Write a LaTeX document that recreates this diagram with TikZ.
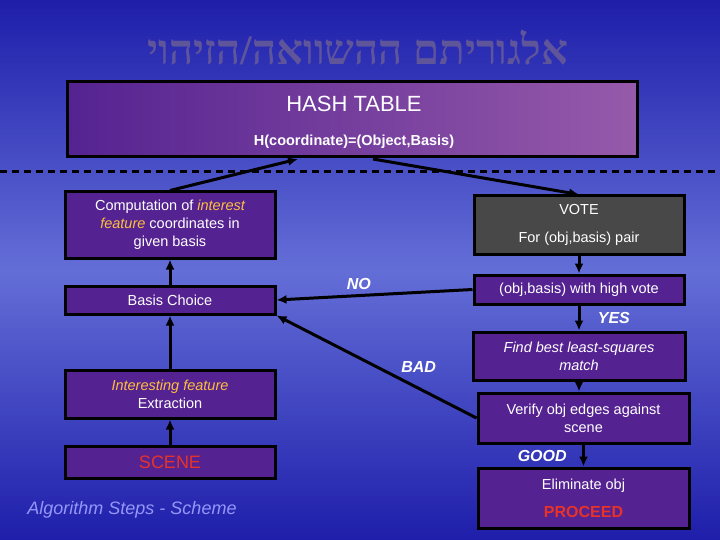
\documentclass[tikz,border=0pt]{standalone}
\usepackage{fontspec}
\setmainfont{Liberation Sans}
\newfontfamily\hebfont[Script=Hebrew]{Liberation Serif}
\TeXXeTstate=1
\usetikzlibrary{arrows.meta}
\definecolor{bgblue}{RGB}{30,30,170}
\definecolor{bglight}{RGB}{100,110,215}
\definecolor{boxpurple}{RGB}{85,35,145}
\definecolor{boxpink}{RGB}{150,90,170}
\definecolor{votegray}{RGB}{72,72,72}
\definecolor{orangey}{RGB}{255,190,60}
\definecolor{titlecol}{RGB}{95,85,155}
\definecolor{redtxt}{RGB}{230,50,40}
\definecolor{steptxt}{RGB}{150,150,250}
\begin{document}
\begin{tikzpicture}[x=1pt,y=-1pt,
  stepbox/.style={draw=black,line width=3pt,fill=boxpurple,text=white,font=\fontsize{14.5}{18}\selectfont,align=center,inner sep=0pt},
  arr/.style={-{Latex[length=10pt,width=9pt]},line width=3pt,black},
  lab/.style={text=white,font=\fontsize{16}{18}\selectfont\bfseries\itshape}]
\shade[top color=bgblue,bottom color=bgblue,middle color=bglight] (0,0) rectangle (720,540);
\useasboundingbox (0,0) rectangle (720,540);
\node[text=titlecol,font=\hebfont\fontsize{42}{44}\selectfont\bfseries] (title) at (358,48) {\beginR אלגוריתם ההשוואה/הזיהוי\endR};
\node[stepbox,minimum width=570,minimum height=75,left color=boxpurple,right color=boxpink] (hash) at (352,119.5) {};
\node[text=white,font=\fontsize{22}{24}\selectfont] (ht) at (354,104) {HASH TABLE};
\node[text=white,font=\fontsize{14.5}{16}\selectfont\bfseries] (hf) at (354,142) {H(coordinate)=(Object,Basis)};
\draw[line width=3pt,dash pattern=on 7pt off 5pt] (0,172) -- (720,172);
\node[stepbox,minimum width=210,minimum height=66] (comp) at (170,225) {Computation of \textcolor{orangey}{\itshape interest}\\\textcolor{orangey}{\itshape feature} coordinates in\\given basis};
\node[stepbox,fill=votegray,minimum width=210,minimum height=58] (vote) at (579,225) {VOTE\\[10pt]For (obj,basis) pair};
\node[stepbox,minimum width=210,minimum height=29] (hv) at (579,289.5) {(obj,basis) with high vote};
\node[stepbox,minimum width=210,minimum height=28] (basis) at (170,300) {Basis Choice};
\node[stepbox,minimum width=212,minimum height=48] (find) at (579,356) {\itshape Find best least-squares\\\itshape match};
\node[stepbox,minimum width=211,minimum height=50] (ver) at (583.5,418) {Verify obj edges against\\scene};
\node[stepbox,minimum width=210,minimum height=48] (intf) at (170,394) {\textcolor{orangey}{\itshape Interesting feature}\\Extraction};
\node[stepbox,minimum width=210,minimum height=32,text=redtxt,font=\fontsize{18}{20}\selectfont] (scene) at (170,462) {SCENE};
\node[stepbox,minimum width=211,minimum height=60] (elim) at (583.5,498) {Eliminate obj\\[10pt]\textcolor{redtxt}{\bfseries\fontsize{16}{18}\selectfont PROCEED}};
\node[text=steptxt,font=\fontsize{18}{20}\selectfont\itshape] (alg) at (132,510) {Algorithm Steps - Scheme};
\coordinate (h1) at (298,159);
\coordinate (h2) at (373,159);
\draw[arr] (comp.north) -- (h1);
\draw[arr] (h2) -- (vote.north);
\draw[arr] (vote) -- (hv);
\draw[arr] (hv.west) -- node[lab,pos=0.58,above=1pt]{NO} (basis.east);
\draw[arr] (hv) -- node[lab,right=14pt]{YES} (find);
\draw[arr] (find) -- (find|-ver.north);
\draw[arr] (ver.west) -- node[lab,pos=0.4,above right=0pt]{BAD} (basis.south east);
\draw[arr] (ver.south-|elim) -- node[lab,left=12pt]{GOOD} (elim);
\draw[arr] (basis) -- (comp);
\draw[arr] (intf) -- (basis);
\draw[arr] (scene) -- (intf);
\end{tikzpicture}
\end{document}
